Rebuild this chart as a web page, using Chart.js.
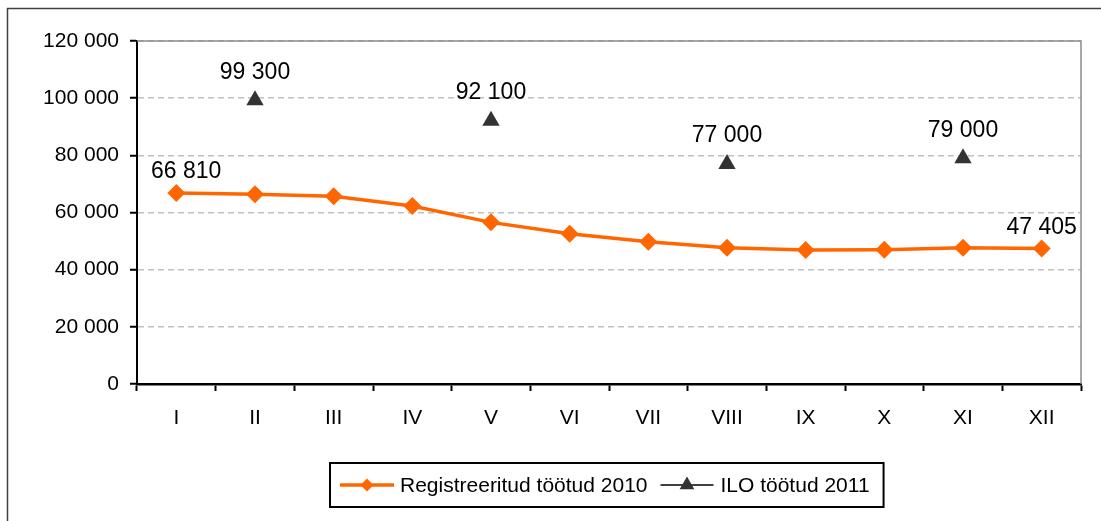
<!DOCTYPE html>
<html><head><meta charset="utf-8">
<style>html,body{margin:0;padding:0;background:#fff;overflow:hidden}#wrap{width:1101px;height:521px;position:relative}</style>
<script src="https://cdn.jsdelivr.net/npm/chart.js@4.4.1/dist/chart.umd.min.js"></script>
</head><body><div id="wrap"><canvas id="c" width="1101" height="521" style="width:1101px;height:521px"></canvas></div>
<script>
const months = ['I','II','III','IV','V','VI','VII','VIII','IX','X','XI','XII'];
const registered2010 = [66810, 66400, 65700, 62300, 56550, 52600, 49750, 47650, 46900, 47000, 47650, 47405];
const ilo2011 = [null, 99300, null, null, 92100, null, null, 77000, null, null, 79000, null];
const seriesNames = ['Registreeritud töötud 2010', 'ILO töötud 2011'];
const labelledRegistered = [0, 11];
const yMin = 0, yMax = 120000, yStep = 20000;

const FONT = 'Arial, "Liberation Sans", sans-serif';
const ORANGE = '#FF6600', DARK = '#333333';
const fmt = v => String(v).replace(/\B(?=(\d{3})+(?!\d))/g, ' ');

function diamond(ctx, x, y, r) {
  ctx.beginPath(); ctx.moveTo(x - r, y); ctx.lineTo(x, y - r); ctx.lineTo(x + r, y); ctx.lineTo(x, y + r); ctx.closePath(); ctx.fill();
}
function triangle(ctx, x, y, r) {
  const w = r * Math.sqrt(3) / 2;
  ctx.beginPath(); ctx.moveTo(x, y - r); ctx.lineTo(x + w, y + r / 2); ctx.lineTo(x - w, y + r / 2); ctx.closePath(); ctx.fill();
}

const framePlugin = {
  id: 'frame',
  beforeDraw(chart) {
    const ctx = chart.ctx;
    ctx.save();
    ctx.fillStyle = '#fff'; ctx.fillRect(0, 0, chart.width, chart.height);
    ctx.strokeStyle = '#404040'; ctx.lineWidth = 1.5;
    ctx.beginPath(); ctx.moveTo(7.5, chart.height); ctx.lineTo(7.5, 8.5); ctx.lineTo(chart.width, 8.5); ctx.stroke();
    ctx.restore();
  },
  beforeDatasetsDraw(chart) {
    const {ctx, chartArea: a} = chart;
    ctx.save();
    ctx.strokeStyle = '#8c8c8c'; ctx.lineWidth = 1.5;
    ctx.beginPath(); ctx.moveTo(a.left, a.top); ctx.lineTo(a.right, a.top); ctx.lineTo(a.right, a.bottom); ctx.stroke();
    ctx.restore();
  }
};

const labelPlugin = {
  id: 'valueLabels',
  afterDatasetsDraw(chart) {
    const ctx = chart.ctx, a = chart.chartArea;
    ctx.save();
    ctx.font = '23px ' + FONT; ctx.fillStyle = '#000'; ctx.textAlign = 'center'; ctx.textBaseline = 'middle';
    chart.data.datasets.forEach((ds, di) => {
      const meta = chart.getDatasetMeta(di);
      const idx = di === 0 ? labelledRegistered : ds.data.map((v, i) => v == null ? -1 : i).filter(i => i >= 0);
      const off = di === 0 ? 21 : 28;
      idx.forEach(i => {
        const el = meta.data[i];
        const t = fmt(ds.data[i]);
        const w = ctx.measureText(t).width;
        let x = Math.max(el.x, a.left + w / 2 + 14);
        x = Math.min(x, a.right - w / 2 + 1);
        ctx.fillText(t, x, el.y - off);
      });
    });
    ctx.restore();
  }
};

const legendPlugin = {
  id: 'legendBox',
  afterDraw(chart) {
    const ctx = chart.ctx, a = chart.chartArea;
    ctx.save();
    ctx.font = '21px ' + FONT;
    const w1 = ctx.measureText(seriesNames[0]).width, w2 = ctx.measureText(seriesNames[1]).width;
    const total = 10 + 54 + 6 + w1 + 13 + 53 + 7 + w2 + 10;
    const left = Math.round((a.left + a.right) / 2 - total / 2) - 4;
    const top = chart.scales.x.bottom + 22, h = 44, cy = top + h / 2;
    ctx.strokeStyle = '#000'; ctx.lineWidth = 2;
    ctx.strokeRect(left, top, total + 4, h);
    let x = left + 10;
    ctx.strokeStyle = ORANGE; ctx.lineWidth = 3.5;
    ctx.beginPath(); ctx.moveTo(x, cy); ctx.lineTo(x + 54, cy); ctx.stroke();
    ctx.fillStyle = ORANGE; diamond(ctx, x + 27, cy, 6.5);
    x += 60;
    ctx.fillStyle = '#000'; ctx.textAlign = 'left'; ctx.textBaseline = 'middle';
    ctx.fillText(seriesNames[0], x, cy + 1);
    x += w1 + 13;
    ctx.strokeStyle = '#000'; ctx.lineWidth = 1.5;
    ctx.beginPath(); ctx.moveTo(x, cy); ctx.lineTo(x + 53, cy); ctx.stroke();
    ctx.fillStyle = DARK; triangle(ctx, x + 26.5, cy, 8.5);
    x += 60;
    ctx.fillStyle = '#000';
    ctx.fillText(seriesNames[1], x, cy + 1);
    ctx.restore();
  }
};

new Chart(document.getElementById('c'), {
  type: 'line',
  data: {
    labels: months,
    datasets: [
      { label: seriesNames[0], data: registered2010, borderColor: ORANGE, backgroundColor: ORANGE,
        borderWidth: 3.5, tension: 0, pointStyle: 'rectRot', pointRadius: 9, pointHoverRadius: 9,
        pointBackgroundColor: ORANGE, pointBorderWidth: 0 },
      { label: seriesNames[1], data: ilo2011, borderColor: DARK, backgroundColor: DARK,
        showLine: false, pointStyle: 'triangle', pointRadius: 10, pointHoverRadius: 10,
        pointBackgroundColor: DARK, pointBorderWidth: 0 }
    ]
  },
  options: {
    responsive: false, animation: false, devicePixelRatio: 1,
    layout: { padding: { left: 0, top: 41, right: 20, bottom: 80 } },
    plugins: { legend: { display: false }, tooltip: { enabled: false } },
    scales: {
      x: {
        offset: true,
        grid: { offset: true, drawOnChartArea: false, drawTicks: true, tickLength: 7, tickColor: '#000', tickWidth: 2 },
        border: { display: true, color: '#000', width: 2.5 },
        ticks: { color: '#000', font: { family: FONT, size: 21 }, padding: 15, maxRotation: 0, autoSkip: false },
        afterFit(s) { s.height = 521 - 384 - 80; }
      },
      y: {
        min: yMin, max: yMax,
        grid: { color: '#c0c0c0', lineWidth: 1.5, drawTicks: true, tickLength: 7, tickColor: '#000', tickWidth: 2 },
        border: { display: true, color: '#000', width: 2, dash: [6, 4] },
        ticks: { stepSize: yStep, color: '#000', font: { family: FONT, size: 21 }, padding: 11, callback: v => fmt(v) },
        afterFit(s) { s.width = 137; }
      }
    }
  },
  plugins: [framePlugin, labelPlugin, legendPlugin]
});
</script></body></html>
